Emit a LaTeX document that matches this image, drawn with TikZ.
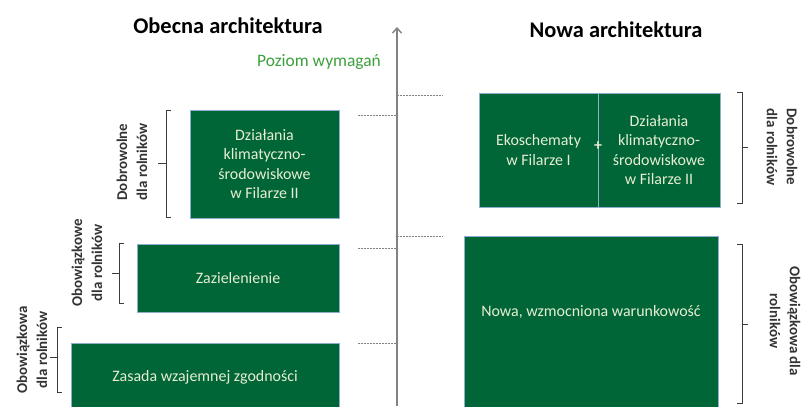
\documentclass[tikz,border=0pt]{standalone}
\usepackage{fontspec}
\setmainfont{Carlito}
\usetikzlibrary{arrows.meta}
\definecolor{boxgreen}{RGB}{0,102,55}
\definecolor{boxedge}{RGB}{140,175,205}
\definecolor{boxtext}{RGB}{232,238,210}
\definecolor{levelgreen}{RGB}{60,160,60}
\definecolor{axisgray}{RGB}{130,130,130}
\definecolor{brk}{RGB}{60,60,60}
\tikzset{
  greenbox/.style={draw=boxedge, line width=0.8bp, fill=boxgreen, text=boxtext, inner sep=0pt, align=center, font=\fontsize{16}{19.5}\selectfont},
  boxlabel/.style={text=boxtext, inner sep=0pt, align=center, font=\fontsize{16}{19.5}\selectfont},
  bracketline/.style={draw=brk, line width=1bp},
  sidelabel/.style={inner sep=0pt, align=center, font=\bfseries\fontsize{15}{20}\selectfont, text=black!80},
  title/.style={inner sep=0pt, font=\bfseries\fontsize{22.5}{25}\selectfont},
  tickline/.style={draw=axisgray, line width=0.8bp, dash pattern=on 2bp off 1bp}
}
\begin{document}
\begin{tikzpicture}[x=1bp, y=-1bp]
\useasboundingbox (0,0) rectangle (804,406);
\clip (0,0) rectangle (804,406);

% titles
\node[title] (tl) at (228,26) {Obecna architektura};
\node[title] (tr) at (616,30) {Nowa architektura};
\node[inner sep=0pt, text=levelgreen, font=\fontsize{17.5}{19}\selectfont] (lvl) at (319,62) {Poziom wymagań};

% axis
\coordinate (axb) at (397,406);
\coordinate (axt) at (397,27);
\draw[draw=axisgray, line width=1.4bp, -{Straight Barb[length=5bp,width=9bp]}] (axb) -- (axt);

% dashed level ticks
\coordinate (l1a) at (358,115); \coordinate (l1b) at (397,115);
\coordinate (l2a) at (358,248); \coordinate (l2b) at (397,248);
\coordinate (l3a) at (358,343); \coordinate (l3b) at (397,343);
\coordinate (r1a) at (397,95);  \coordinate (r1b) at (443,95);
\coordinate (r2a) at (397,236); \coordinate (r2b) at (443,236);
\draw[tickline] (l1a) -- (l1b);
\draw[tickline] (l2a) -- (l2b);
\draw[tickline] (l3a) -- (l3b);
\draw[tickline] (r1a) -- (r1b);
\draw[tickline] (r2a) -- (r2b);

% left boxes
\node[greenbox, minimum width=149bp, minimum height=108bp] (dzl) at (264.5,164) {Działania\\klimatyczno-\\środowiskowe\\w Filarze II};
\node[greenbox, minimum width=202bp, minimum height=68bp] (zaz) at (238,278) {Zazielenienie};
\node[greenbox, minimum width=268bp, minimum height=68bp] (zwz) at (205,377) {Zasada wzajemnej zgodności};

% right boxes
\node[greenbox, minimum width=119bp, minimum height=114bp] (eko) at (538.5,150) {Ekoschematy\\w Filarze I};
\node[greenbox, minimum width=122bp, minimum height=114bp] (dzr) at (659,150) {Działania\\klimatyczno-\\środowiskowe\\w Filarze II};
\node[boxlabel, font=\bfseries\fontsize{16}{20}\selectfont] (plus) at (598,146) {+};
\node[greenbox, minimum width=254bp, minimum height=176bp] (nwc) at (591,324) {};
\node[boxlabel] (nwct) at (591,312) {Nowa, wzmocniona warunkowość};

% left brackets
\draw[bracketline] (171,110) -- (166,110) -- (166,217) -- (171,217);
\draw[bracketline] (166,163) -- (158,163);
\node[sidelabel, rotate=90] (lb1) at (132,162) {Dobrowolne\\dla rolników};

\draw[bracketline] (124,243) -- (119,243) -- (119,303) -- (124,303);
\draw[bracketline] (119,273) -- (112,273);
\node[sidelabel, rotate=90] (lb2) at (87,263) {Obowiązkowe\\dla rolników};

\draw[bracketline] (62,327) -- (57,327) -- (57,392) -- (62,392);
\draw[bracketline] (57,357) -- (50,357);
\node[sidelabel, rotate=90] (lb3) at (32,350) {Obowiązkowa\\dla rolników};

% right brackets
\draw[bracketline] (737,92) -- (742,92) -- (742,203) -- (737,203);
\draw[bracketline] (742,147) -- (748,147);
\node[sidelabel, rotate=-90] (rb1) at (782,147) {Dobrowolne\\dla rolników};

\draw[bracketline] (737,244) -- (742,244) -- (742,403) -- (737,403);
\draw[bracketline] (742,324) -- (748,324);
\node[sidelabel, rotate=-90] (rb2) at (785,321) {Obowiązkowa dla\\rolników};
\end{tikzpicture}
\end{document}
